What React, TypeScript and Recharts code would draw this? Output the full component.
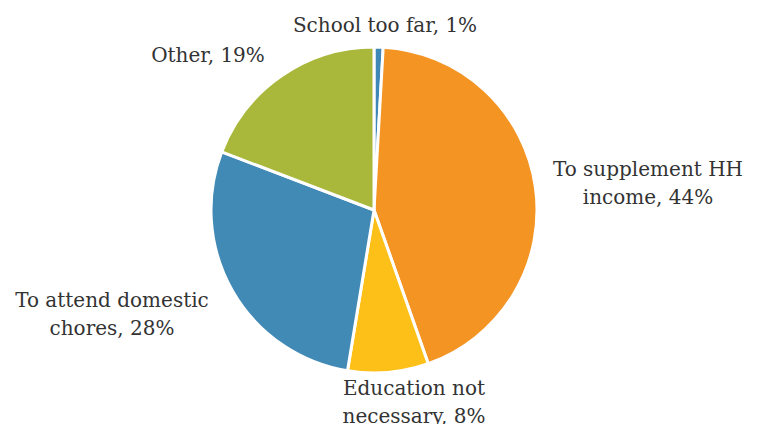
import { PieChart, Pie, Cell } from 'recharts';

const categories = [
  'School too far',
  'To supplement HH income',
  'Education not necessary',
  'To attend domestic chores',
  'Other',
];
// shares; labels show them rounded
const shares = [0.9, 43.7, 8.0, 28.2, 19.2];
const colors = ['#3E87B6', '#F39423', '#FCC018', '#428AB6', '#A9B83B'];

const data = categories.map((name, i) => ({ name, value: shares[i] }));

// label placement, relative to the pie centre (x of text centre, y of first baseline)
const labelOffsets: Array<[number, number]> = [
  [11, -178],
  [274, -34],
  [40, 185],
  [-262, 97],
  [-166, -148],
];

const FONT_SIZE = 20;
const LINE_H = 28;

// greedy wrap like Excel's data label box
function wrap(text: string, max = 18): string[] {
  const words = text.split(' ');
  const lines: string[] = [];
  let cur = '';
  words.forEach((w) => {
    const next = cur ? `${cur} ${w}` : w;
    if (next.length > max && cur) {
      lines.push(cur);
      cur = w;
    } else {
      cur = next;
    }
  });
  if (cur) lines.push(cur);
  return lines;
}

const renderLabel = (props: any) => {
  const { cx, cy, name, value, index } = props;
  const lines = wrap(`${name}, ${Math.round(value)}%`);
  const [dx, dy] = labelOffsets[index];
  const x = cx + dx;
  const y = cy + dy;
  return (
    <text
      x={x}
      y={y}
      textAnchor="middle"
      fill="#333333"
      fontSize={FONT_SIZE}
      fontFamily="'DejaVu Serif', serif"
    >
      {lines.map((l, i) => (
        <tspan key={i} x={x} dy={i === 0 ? 0 : LINE_H}>
          {l}
        </tspan>
      ))}
    </text>
  );
};

export default function App() {
  return (
    <div style={{ position: 'fixed', top: 0, left: 0, width: 759, height: 424, background: '#fff' }}>
      <PieChart width={759} height={424} margin={{ top: 0, right: 0, bottom: 0, left: 0 }}>
        <Pie
          data={data}
          dataKey="value"
          nameKey="name"
          cx={374}
          cy={210}
          outerRadius={163}
          startAngle={90}
          endAngle={-270}
          stroke="#ffffff"
          strokeWidth={3}
          label={renderLabel}
          labelLine={false}
          isAnimationActive={false}
        >
          {data.map((_, i) => (
            <Cell key={`cell-${i}`} fill={colors[i]} />
          ))}
        </Pie>
      </PieChart>
    </div>
  );
}
